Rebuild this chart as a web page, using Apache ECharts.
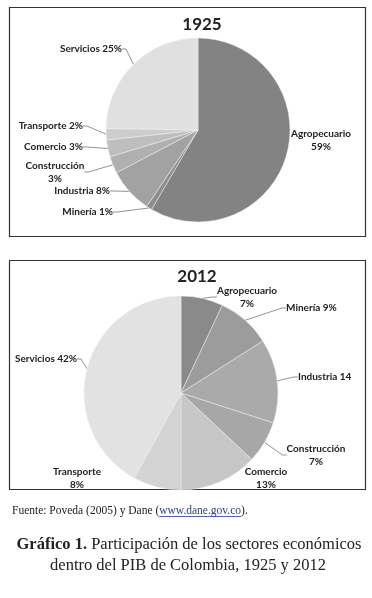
<!DOCTYPE html>
<html>
<head>
<meta charset="utf-8">
<script src="https://cdn.jsdelivr.net/npm/echarts@6/dist/echarts.min.js"></script>
<style>
html, body { margin: 0; padding: 0; background: #fff; }
#main { width: 372px; height: 598px; }
</style>
</head>
<body>
<div id="main"></div>
<script>
// sectores (mismo orden en los dos años)
var sectores = ['Agropecuario', 'Minería', 'Industria', 'Construcción', 'Comercio', 'Transporte', 'Servicios'];
var valores1925 = [59, 1, 8, 3, 3, 2, 25];
var valores2012 = [7, 9, 14, 7, 13, 8, 42];
var grises1925 = ['#838383', '#8d8d8d', '#a2a2a2', '#b0b0b0', '#bebebe', '#cdcdcd', '#e0e0e0'];
var grises2012 = ['#8a8a8a', '#9c9c9c', '#aaaaaa', '#a7a7a7', '#c6c6c6', '#d4d4d4', '#e2e2e2'];

// formato de cada etiqueta
var formato1925 = ['{b}\n{c}%', '{b} {c}%', '{b} {c}%', '{b}\n{c}%', '{b} {c}%', '{b} {c}%', '{b} {c}%'];
var formato2012 = ['{b}\n{c}%', '{b} {c}%', '{b} {c}', '{b}\n{c}%', '{b}\n{c}%', '{b}\n{c}%', '{b} {c}%'];

// donde va cada etiqueta: [x, y, align]
var pos1925 = [[321, 140, 'center'], [113, 212, 'right'], [110, 191, 'right'], [55, 172, 'center'],
	[83, 147, 'right'], [83, 126, 'right'], [122, 49, 'right']];
var pos2012 = [[247, 297, 'center'], [286, 308, 'left'], [298, 377, 'left'], [316, 455, 'center'],
	[266, 478, 'center'], [77, 478, 'center'], [77, 359, 'right']];
var sinLinea1925 = [0];
var sinLinea2012 = [4, 5];

var fuente = 'Lato, "Open Sans", sans-serif';
var serif = '"Liberation Serif", serif';

function datos(valores, grises, formatos, sinLinea) {
	return sectores.map(function (s, i) {
		return {
			name: s,
			value: valores[i],
			itemStyle: { color: grises[i] },
			label: { formatter: formatos[i] },
			labelLine: { show: sinLinea.indexOf(i) < 0 }
		};
	});
}

function torta(center, radius, data, pos) {
	return {
		type: 'pie',
		center: center,
		radius: radius,
		startAngle: 90,
		clockwise: true,
		silent: true,
		animation: false,
		itemStyle: { borderColor: '#eeeeee', borderWidth: 0.5 },
		label: {
			show: true,
			position: 'outside',
			color: '#222',
			fontFamily: fuente,
			fontWeight: 'bold',
			fontSize: 10,
			lineHeight: 13
		},
		labelLine: {
			show: true,
			length: 4,
			length2: 4,
			lineStyle: { color: '#777', width: 0.8 }
		},
		labelLayout: function (p) {
			var q = pos[p.dataIndex];
			return { x: q[0], y: q[1], align: q[2], verticalAlign: 'middle' };
		},
		data: data
	};
}

// medir el texto de la fuente para poner el enlace seguido
var ctx = document.createElement('canvas').getContext('2d');
ctx.font = '11.5px "Liberation Serif"';
var f1 = 'Fuente: Poveda (2005) y Dane (';
var f2 = 'www.dane.gov.co';
var w1 = ctx.measureText(f1).width;
var w2 = ctx.measureText(f2).width;
var fx = 12, fy = 511;

var myChart = echarts.init(document.getElementById('main'), null, { renderer: 'canvas' });
var option = {
	backgroundColor: '#fff',
	graphic: [
		{ type: 'rect', shape: { x: 9.5, y: 7.5, width: 356, height: 229 }, style: { fill: 'none', stroke: '#333', lineWidth: 1.2 } },
		{ type: 'rect', shape: { x: 9.5, y: 260.5, width: 356, height: 229 }, style: { fill: 'none', stroke: '#333', lineWidth: 1.2 } },
		{ type: 'text', x: 202, y: 25, style: { text: '1925', fontFamily: fuente, fontWeight: 'bold', fontSize: 17, fill: '#222', align: 'center', verticalAlign: 'middle' } },
		{ type: 'text', x: 197, y: 277, style: { text: '2012', fontFamily: fuente, fontWeight: 'bold', fontSize: 17, fill: '#222', align: 'center', verticalAlign: 'middle' } },
		{ type: 'text', x: fx, y: fy, style: { text: f1, fontFamily: serif, fontSize: 11.5, fill: '#222', verticalAlign: 'middle' } },
		{ type: 'text', x: fx + w1, y: fy, style: { text: f2, fontFamily: serif, fontSize: 11.5, fill: '#2a3f8f', verticalAlign: 'middle' } },
		{ type: 'line', shape: { x1: fx + w1, y1: fy + 5.5, x2: fx + w1 + w2, y2: fy + 5.5 }, style: { stroke: '#2a3f8f', lineWidth: 0.8 } },
		{ type: 'text', x: fx + w1 + w2, y: fy, style: { text: ').', fontFamily: serif, fontSize: 11.5, fill: '#222', verticalAlign: 'middle' } },
		{ type: 'text', x: 189, y: 545, style: {
			text: '{b|Gráfico 1.} Participación de los sectores económicos',
			rich: { b: { fontFamily: serif, fontWeight: 'bold', fontSize: 16.5, fill: '#222' } },
			fontFamily: serif, fontSize: 16.5, fill: '#222', align: 'center', verticalAlign: 'middle' } },
		{ type: 'text', x: 188, y: 566, style: { text: 'dentro del PIB de Colombia, 1925 y 2012', fontFamily: serif, fontSize: 16.5, fill: '#222', align: 'center', verticalAlign: 'middle' } }
	],
	series: [
		torta([198, 130], 92, datos(valores1925, grises1925, formato1925, sinLinea1925), pos1925),
		torta([181, 393], 97, datos(valores2012, grises2012, formato2012, sinLinea2012), pos2012)
	]
};
myChart.setOption(option);
</script>
</body>
</html>
